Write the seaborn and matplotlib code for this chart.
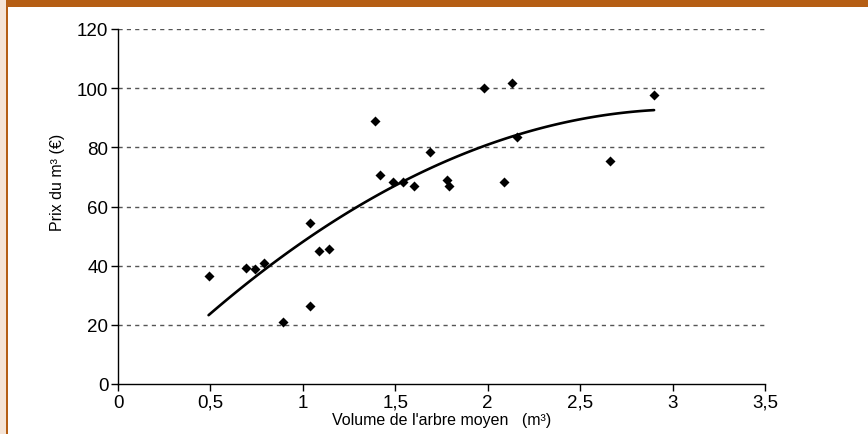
import matplotlib
matplotlib.use("Agg")
import matplotlib.pyplot as plt
from matplotlib.patches import Rectangle
import seaborn as sns
import pandas as pd

# Data
volume = [0.49, 0.69, 0.74, 0.79, 0.89, 1.04, 1.04, 1.09, 1.14, 1.39, 1.42, 1.49,
          1.54, 1.60, 1.69, 1.78, 1.79, 1.98, 2.09, 2.13, 2.16, 2.66, 2.90]
prix = [36.5, 39.2, 38.9, 40.9, 21.0, 26.4, 54.4, 45.0, 45.6, 88.9, 70.7, 68.3,
        68.3, 67.0, 78.4, 69.0, 67.0, 100.0, 68.3, 101.8, 83.5, 75.4, 97.7]
xticks = [0, 0.5, 1, 1.5, 2, 2.5, 3, 3.5]
xtick_labels = ["0", "0,5", "1", "1,5", "2", "2,5", "3", "3,5"]
yticks = [0, 20, 40, 60, 80, 100, 120]

df = pd.DataFrame({"volume": volume, "prix": prix})

sns.set_theme(style="white")
plt.rcParams["font.family"] = ["Liberation Sans", "DejaVu Sans"]

fig = plt.figure(figsize=(8.68, 4.35), dpi=100)
fig.patch.set_facecolor("white")

# decorative frame: beige strip on the left, orange banner on top
orange = "#B55E14"
beige = "#F5E4D6"
W, H = 868, 435
fig.patches.append(Rectangle((0, 0), 6 / W, 1, transform=fig.transFigure,
                             facecolor=beige, edgecolor="none", zorder=0))
fig.patches.append(Rectangle((6 / W, 0), 1.5 / W, 1, transform=fig.transFigure,
                             facecolor=orange, edgecolor="none", zorder=0))
fig.patches.append(Rectangle((6 / W, 1 - 8 / H), 1, 8 / H, transform=fig.transFigure,
                             facecolor=orange, edgecolor="none", zorder=0))

ax = fig.add_axes([118 / W, 1 - 385 / H, (765 - 118) / W, (385 - 30) / H])
ax.set_facecolor("white")

sns.regplot(data=df, x="volume", y="prix", order=2, ci=None, ax=ax,
            marker="D", color="black",
            scatter_kws={"s": 26, "linewidths": 0, "alpha": 1, "zorder": 3},
            line_kws={"color": "black", "linewidth": 1.9, "zorder": 2})

ax.set_xlim(0, 3.5)
ax.set_ylim(0, 120)
ax.set_xticks(xticks)
ax.set_xticklabels(xtick_labels)
ax.set_yticks(yticks)

for y in yticks[1:]:
    ax.axhline(y, color="#555555", linewidth=1.0, linestyle=(0, (3, 3)), zorder=1)

for s in ["top", "right"]:
    ax.spines[s].set_visible(False)
for s in ["left", "bottom"]:
    ax.spines[s].set_color("black")
    ax.spines[s].set_linewidth(1.0)

ax.tick_params(axis="both", which="major", direction="out", length=5, width=1,
               color="black", labelsize=13.5, labelcolor="black", pad=2,
               bottom=True, left=True)

ax.set_xlabel("Volume de l'arbre moyen   (m³)", fontsize=11.5, color="black", labelpad=1)
ax.set_ylabel("Prix du m³ (€)", fontsize=11.5, color="black")
ax.yaxis.set_label_coords(-0.082, 0.572)

fig.savefig("out.png", dpi=100, facecolor=fig.get_facecolor())
